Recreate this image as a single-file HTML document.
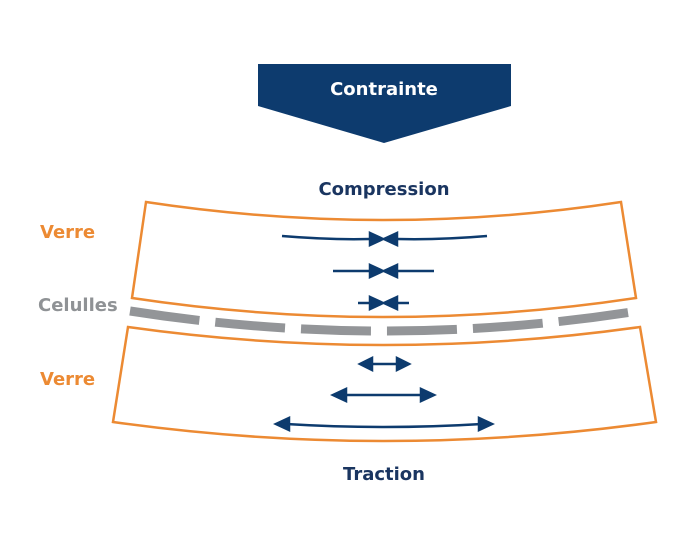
<!DOCTYPE html>
<html><head><meta charset="utf-8"><style>
html,body{margin:0;padding:0;background:#fff;}
svg{display:block;}
text{font-family:"DejaVu Sans","Liberation Sans",sans-serif;font-weight:bold;}
</style></head><body>
<svg width="700" height="558" viewBox="0 0 700 558" xmlns="http://www.w3.org/2000/svg">
<defs>
<marker id="tr" markerWidth="4" markerHeight="4" refX="4" refY="2" orient="auto" markerUnits="strokeWidth"><path d="M0,0 L4,2 L0,4 Z" fill="#0d3b6e"/></marker>
</defs>
<polygon points="258,64 511,64 511,106 384,143 258,106" fill="#0d3b6e"/>
<text x="384" y="95" font-size="18" fill="#fff" text-anchor="middle">Contrainte</text>
<text x="384" y="195" font-size="18" fill="#1a3560" text-anchor="middle">Compression</text>
<text x="384" y="480" font-size="18" fill="#1a3560" text-anchor="middle">Traction</text>
<text x="40" y="238" font-size="18" fill="#ec8a33">Verre</text>
<text x="40" y="385" font-size="18" fill="#ec8a33">Verre</text>
<text x="38" y="311" font-size="18" fill="#8f9295">Celulles</text>
<g fill="none" stroke="#ec8a33" stroke-width="2.5" stroke-linejoin="miter">
<path d="M146,202 Q384,238 621,202 L636,298 Q384,336 132,298 Z"/>
<path d="M128,327 Q384,363 640,327 L656,422 Q384,460 113,422 Z"/>
</g>
<path d="M130,311 Q384,351 638,311" fill="none" stroke="#939598" stroke-width="9" stroke-dasharray="70 16"/>
<g stroke="#0d3b6e" stroke-width="2.5" fill="#0d3b6e">
<path d="M282,236 Q330,240 370,239" fill="none"/>
<path d="M487,236 Q440,240 397,239" fill="none"/>
<polygon points="370,233 383,239 370,245"/><polygon points="397,233 384,239 397,245"/>
<line x1="333" y1="271" x2="370" y2="271"/><line x1="434" y1="271" x2="397" y2="271"/>
<polygon points="370,265 383,271 370,277"/><polygon points="397,265 384,271 397,277"/>
<line x1="358" y1="303" x2="370" y2="303"/><line x1="409" y1="303" x2="397" y2="303"/>
<polygon points="370,297 383,303 370,309"/><polygon points="397,297 384,303 397,309"/>
<line x1="370" y1="364" x2="398" y2="364"/>
<polygon points="360,364 372,358 372,370"/><polygon points="409,364 397,358 397,370"/>
<line x1="343" y1="395" x2="423" y2="395"/>
<polygon points="333,395 346,389 346,401"/><polygon points="434,395 421,389 421,401"/>
<path d="M286,424 Q384,430 482,424" fill="none"/>
<polygon points="276,424 289,418 289,430"/><polygon points="492,424 479,418 479,430"/>
</g>
</svg>
</body></html>
